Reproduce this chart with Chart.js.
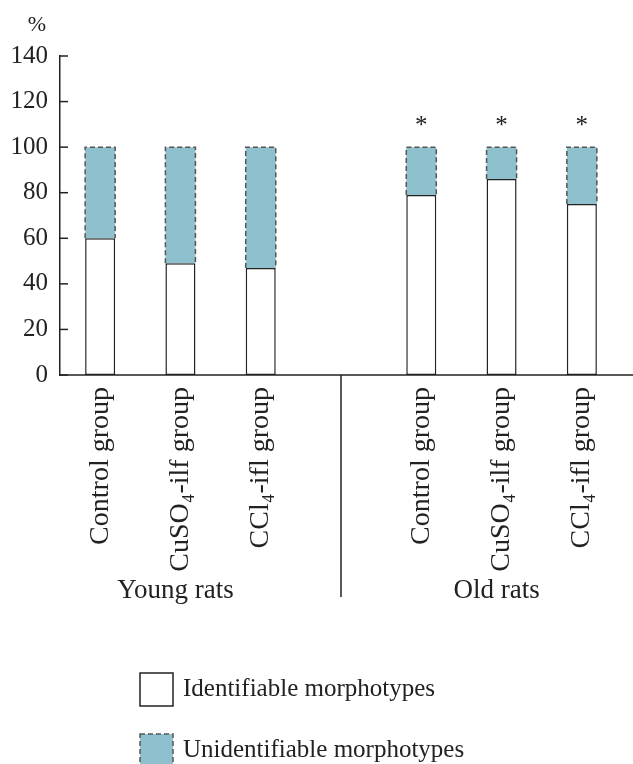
<!DOCTYPE html>
<html>
<head>
<meta charset="utf-8">
<script src="https://cdn.jsdelivr.net/npm/chart.js@4.4.0/dist/chart.umd.min.js"></script>
<style>
  html, body { margin: 0; padding: 0; background: #fff; }
  #chart { display: block; }
</style>
</head>
<body>
<canvas id="chart" width="633" height="764"></canvas>
<script>
// Данные графика
const categories = ['Control group', 'CuSO\u2084-ilf group', 'CCl\u2084-ifl group', '',
                    'Control group', 'CuSO\u2084-ilf group', 'CCl\u2084-ifl group'];
const identifiable = [60, 49, 47, null, 79, 86, 75];
const unidentifiable = [40, 51, 53, null, 21, 14, 25];
const significance = ['', '', '', '', '*', '*', '*'];
const groupLabels = ['Young rats', 'Old rats'];
const groupCenters = [1, 5];   // индексы категорий под подписями групп
const dividerIndex = 3;
const legendLabels = ['Identifiable morphotypes', 'Unidentifiable morphotypes'];
const yTicks = { min: 0, max: 140, step: 20 };

const SERIF = "'Liberation Serif', 'Times New Roman', serif";
const INK = '#222';
const TEAL = '#8fc0cd';
const DASH = '#555';

Chart.defaults.font.family = SERIF;
Chart.defaults.color = INK;

// Рамки, подписи и прочее оформление
const decorPlugin = {
    id: 'decor',
    afterDatasetsDraw(chart) {
        const ctx = chart.ctx;
        const x = chart.scales.x;
        const y = chart.scales.y;
        const area = chart.chartArea;

        // пунктирная рамка для верхних столбиков
        const meta = chart.getDatasetMeta(1);
        ctx.save();
        ctx.strokeStyle = DASH;
        ctx.lineWidth = 1.5;
        ctx.setLineDash([5, 3]);
        meta.data.forEach((bar, i) => {
            if (unidentifiable[i] == null) return;
            const l = bar.x - bar.width / 2, r = bar.x + bar.width / 2;
            ctx.beginPath();
            ctx.moveTo(l, bar.base);
            ctx.lineTo(l, bar.y);
            ctx.lineTo(r, bar.y);
            ctx.lineTo(r, bar.base);
            ctx.stroke();
        });
        ctx.restore();

        ctx.save();
        ctx.strokeStyle = INK;
        ctx.lineWidth = 1.5;

        // ось X до правого края
        ctx.beginPath();
        ctx.moveTo(area.left, area.bottom);
        ctx.lineTo(chart.width, area.bottom);
        ctx.stroke();

        // засечки внутрь
        y.ticks.forEach(t => {
            const py = y.getPixelForValue(t.value);
            ctx.beginPath();
            ctx.moveTo(area.left, py);
            ctx.lineTo(area.left + 8, py);
            ctx.stroke();
        });

        // разделитель групп
        const dx = x.getPixelForValue(dividerIndex);
        ctx.beginPath();
        ctx.moveTo(dx, area.bottom);
        ctx.lineTo(dx, 597);
        ctx.stroke();

        // знак %
        ctx.fillStyle = INK;
        ctx.font = '22px ' + SERIF;
        ctx.textAlign = 'center';
        ctx.textBaseline = 'middle';
        ctx.fillText('%', 37, 25);

        // звёздочки
        ctx.font = '25px ' + SERIF;
        significance.forEach((s, i) => {
            if (!s) return;
            ctx.fillText(s, x.getPixelForValue(i), y.getPixelForValue(100) - 21);
        });

        // подписи категорий (повёрнутые)
        ctx.font = '28px ' + SERIF;
        ctx.textAlign = 'right';
        categories.forEach((c, i) => {
            if (!c) return;
            ctx.save();
            ctx.translate(x.getPixelForValue(i), area.bottom + 12);
            ctx.rotate(-Math.PI / 2);
            ctx.fillText(c, 0, 0);
            ctx.restore();
        });

        // подписи групп
        ctx.font = '27px ' + SERIF;
        ctx.textAlign = 'center';
        groupLabels.forEach((g, i) => {
            ctx.fillText(g, x.getPixelForValue(groupCenters[i]) - 5, 591);
        });

        // легенда
        const boxX = 140, boxS = 33, rows = [673, 734];
        ctx.font = '25px ' + SERIF;
        ctx.textAlign = 'left';
        legendLabels.forEach((lbl, i) => {
            const by = rows[i];
            ctx.save();
            if (i === 0) {
                ctx.fillStyle = '#fff';
                ctx.fillRect(boxX, by, boxS, boxS);
                ctx.strokeStyle = INK;
            } else {
                ctx.fillStyle = TEAL;
                ctx.fillRect(boxX, by, boxS, boxS);
                ctx.strokeStyle = DASH;
                ctx.setLineDash([5, 3]);
            }
            ctx.strokeRect(boxX, by, boxS, boxS);
            ctx.restore();
            ctx.fillText(lbl, 183, by + boxS / 2);
        });
        ctx.restore();
    }
};

new Chart(document.getElementById('chart'), {
    type: 'bar',
    data: {
        labels: categories,
        datasets: [
            {
                label: legendLabels[0],
                data: identifiable,
                backgroundColor: '#fff',
                borderColor: INK,
                borderWidth: 1.5,
                borderSkipped: false
            },
            {
                label: legendLabels[1],
                data: unidentifiable,
                backgroundColor: TEAL,
                borderWidth: 0
            }
        ]
    },
    options: {
        responsive: false,
        animation: false,
        layout: { padding: { top: 56, bottom: 389, left: 0, right: 11 } },
        datasets: { bar: { categoryPercentage: 1, barPercentage: 0.374 } },
        plugins: {
            legend: { display: false },
            tooltip: { enabled: false }
        },
        scales: {
            x: {
                display: false,
                stacked: true
            },
            y: {
                stacked: true,
                min: yTicks.min,
                max: yTicks.max,
                afterFit: s => { s.width = 60; },
                ticks: {
                    stepSize: yTicks.step,
                    padding: 12,
                    color: INK,
                    font: { size: 25, family: SERIF }
                },
                grid: { display: false, drawTicks: false },
                border: { display: true, color: INK, width: 1.5 }
            }
        }
    },
    plugins: [decorPlugin]
});
</script>
</body>
</html>
